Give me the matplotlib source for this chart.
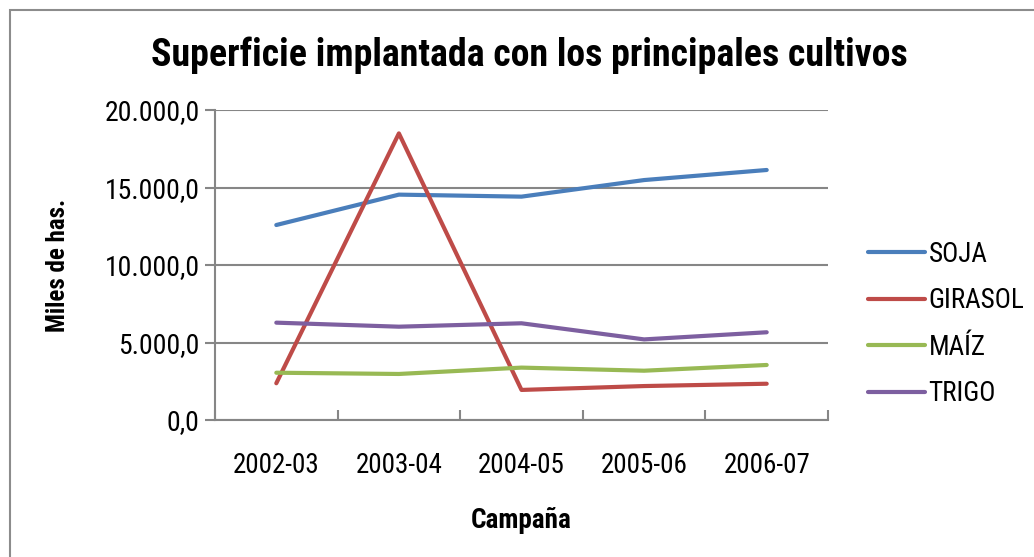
import matplotlib.pyplot as plt
from matplotlib.patches import Rectangle

campanas = ['2002-03', '2003-04', '2004-05', '2005-06', '2006-07']
soja = [12580, 14540, 14410, 15480, 16130]
girasol = [2370, 18490, 1940, 2190, 2340]
maiz = [3050, 2970, 3380, 3180, 3550]
trigo = [6280, 6020, 6240, 5200, 5660]
series_names = ['SOJA', 'GIRASOL', 'MAÍZ', 'TRIGO']
colors = ['#4a7ebb', '#be4b48', '#98b954', '#7d5fa0']
y_ticks = [0, 5000, 10000, 15000, 20000]


def fmt(v):
    # Spanish number format: 20.000,0
    return f"{v:,.1f}".replace(',', 'X').replace('.', ',').replace('X', '.')


plt.rcParams['font.family'] = ['Roboto Condensed', 'DejaVu Sans']

fig = plt.figure(figsize=(10.34, 5.57), dpi=100)
fig.patches.append(Rectangle((10 / 1034, -0.1), 1.2, 1 - 10 / 557 + 0.1,
                             transform=fig.transFigure, fill=False,
                             edgecolor='#8c8c8c', linewidth=1.5))

ax = fig.add_axes([215 / 1034, 1 - 420 / 557, (828 - 215) / 1034, (420 - 110) / 557])
x = range(len(campanas))
for name, vals, c in zip(series_names, [soja, girasol, maiz, trigo], colors):
    ax.plot(x, vals, color=c, linewidth=3, label=name, solid_capstyle='round')

ax.set_xlim(-0.5, len(campanas) - 0.5)
ax.set_ylim(0, 20000)
ax.set_yticks(y_ticks)
ax.set_yticklabels([fmt(v) for v in y_ticks], fontsize=20)
ax.set_xticks(list(x))
ax.set_xticklabels(campanas, fontsize=19.5)
ax.tick_params(axis='x', which='major', length=0, pad=23)
ax.set_xticks([i - 0.5 for i in range(len(campanas) + 1)], minor=True)
ax.tick_params(axis='x', which='minor', length=7, color='#868686', width=1.5, direction='in')
ax.tick_params(axis='y', length=7, color='#868686', width=1.5, pad=4)
ax.grid(axis='y', color='#868686', linewidth=1.5)
ax.set_axisbelow(True)
for s in ['top', 'right']:
    ax.spines[s].set_visible(False)
for s in ['left', 'bottom']:
    ax.spines[s].set_color('#868686')
    ax.spines[s].set_linewidth(1.5)

ax.set_xlabel('Campaña', fontsize=19.5, fontweight='bold', labelpad=20)
ax.set_ylabel('Miles de has.', fontsize=18, fontweight='bold')
ax.yaxis.set_label_coords(-0.237, 0.5)
fig.text(529 / 1034, 1 - 55 / 557, 'Superficie implantada con los principales cultivos',
         fontsize=27.3, fontweight='bold', ha='center', va='center')

ax.legend(loc='center left', bbox_to_anchor=(1.025, 0.31), frameon=False, fontsize=19.5,
          handlelength=2.1, handletextpad=0.15, labelspacing=0.72)

fig.savefig('out.png', dpi=100)
